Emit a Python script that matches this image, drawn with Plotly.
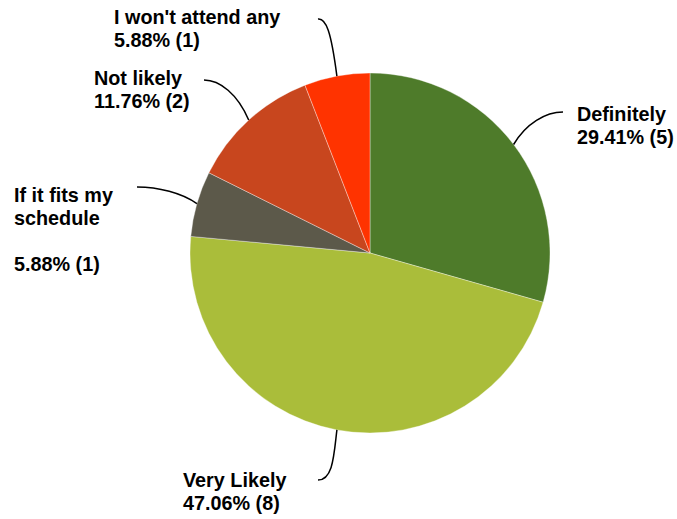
import math
import plotly.graph_objects as go

# ---- data ----
categories = ["Definitely", "Very Likely", "If it fits my schedule", "Not likely", "I won't attend any"]
counts = [5, 8, 1, 2, 1]
percents = ["29.41%", "47.06%", "5.88%", "11.76%", "5.88%"]
name_lines = [["Definitely"], ["Very Likely"], ["If it fits my", "schedule", ""], ["Not likely"], ["I won't attend any"]]
colors = ["#4E7B2A", "#AABD3A", "#5C594A", "#C8461E", "#FF3300"]

W, H = 677, 519
OFF = 0                      # body margin removed via post_script
CX, CY, R = 370, 253, 180    # pie centre / radius in screen pixels (layout)

# label block (left x, first baseline) and leader-line anchor near label (layout)
label_pos = [(576, 121), (182, 487), (13, 202), (93, 85), (113, 24)]
leader_end = [(563, 112), (318, 480), (137, 187), (204, 80), (318, 19)]
LINE_GAP = 23
FS = 19.8

fig = go.Figure()
fig.add_trace(go.Pie(
    labels=categories, values=counts, sort=False, direction="clockwise",
    rotation=0, textinfo="none", hoverinfo="label+percent+value",
    marker=dict(colors=colors, line=dict(color="rgba(255,255,255,0.6)", width=0.6)),
    domain=dict(x=[(CX - R - OFF) / W, (CX + R - OFF) / W],
                y=[1 - (CY + R - OFF) / H, 1 - (CY - R - OFF) / H]),
    showlegend=False,
))

total = sum(counts)
cum = 0
shapes = []
annotations = []
for i, v in enumerate(counts):
    mid = (cum + v / 2) / total * 2 * math.pi
    cum += v
    sx = CX + R * math.sin(mid)
    sy = CY - R * math.cos(mid)
    ex, ey = leader_end[i]
    dx = sx - ex
    c1x, c1y = ex + dx * 0.35, ey
    c2x, c2y = ex + dx * 0.75, ey + (sy - ey) * 0.35
    if i == 1:
        c1x, c1y = ex + dx * 0.8, ey
        c2x, c2y = sx - 3, ey - 25
    if i == 4:
        c1x, c1y = ex + 8, ey - 1
        c2x, c2y = ex + 13, ey + 12
    path = f"M {ex},{ey} C {c1x:.1f},{c1y:.1f} {c2x:.1f},{c2y:.1f} {sx:.1f},{sy:.1f}"
    shapes.append(dict(type="path", path=path, xref="x", yref="y",
                       line=dict(color="black", width=1.5)))

    lines = name_lines[i] + [f"{percents[i]} ({counts[i]})"]
    lx, ly = label_pos[i]
    for k, t in enumerate(lines):
        if not t:
            continue
        annotations.append(dict(
            x=lx, y=ly + k * LINE_GAP - 0.36 * FS, xref="x", yref="y",
            text=f"<b>{t}</b>", showarrow=False,
            xanchor="left", yanchor="middle", align="left", borderpad=0,
            font=dict(family="Liberation Sans, Arial, sans-serif", size=FS, color="black"),
        ))

fig.update_layout(
    width=W, height=H, margin=dict(l=0, r=0, t=0, b=0),
    paper_bgcolor="white", plot_bgcolor="rgba(0,0,0,0)",
    xaxis=dict(range=[OFF, OFF + W], visible=False, domain=[0, 1], fixedrange=True),
    yaxis=dict(range=[OFF + H, OFF], visible=False, domain=[0, 1], fixedrange=True),
    shapes=shapes, annotations=annotations,
)

fig.write_html("out.html", config={"displayModeBar": False},
               post_script="document.body.style.margin='0';document.body.style.overflow='hidden';")
